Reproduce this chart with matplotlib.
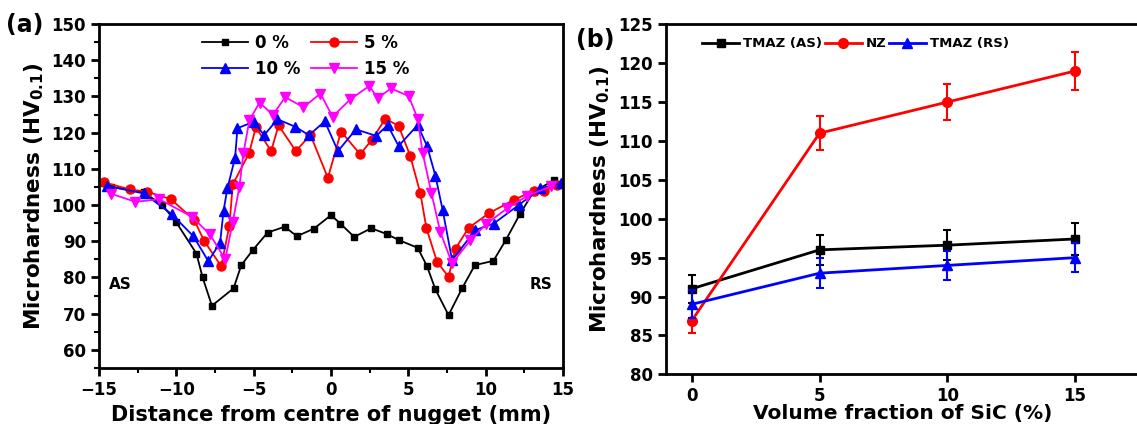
import matplotlib
matplotlib.use("Agg")
import matplotlib.pyplot as plt
from matplotlib.ticker import MultipleLocator

plt.rcParams['font.family'] = ['DejaVu Sans']
plt.rcParams['font.weight'] = 'bold'
plt.rcParams['mathtext.fontset'] = 'dejavusans'
plt.rcParams['axes.linewidth'] = 2.0

# ---------------- Panel (a) data ----------------
x_0 = [-14.7, -14.2, -12.1, -10.9, -10.0, -8.7, -8.3, -7.7, -6.3, -5.8, -5.05, -4.1, -3.0, -2.2,
       -1.1, 0.0, 0.6, 1.5, 2.6, 3.6, 4.4, 5.6, 6.2, 6.75, 7.6, 8.5, 9.3, 10.5, 11.3, 12.2, 13.1, 14.4]
y_0 = [106, 105, 103.5, 100, 95.2, 86.6, 80, 72.2, 77, 83.4, 87.6, 92.4, 94, 91.4,
       93.5, 97.2, 94.9, 91.2, 93.6, 92, 90.3, 88.2, 83.2, 76.7, 69.6, 77.2, 83.4, 84.6, 90.3, 97.4, 103.7, 106.8]

x_5 = [-14.7, -13.0, -11.9, -10.35, -8.85, -8.2, -7.1, -6.57, -6.35, -5.29, -4.86, -3.87, -3.39, -2.27,
       -1.33, -0.2, 0.65, 1.89, 2.65, 3.51, 4.37, 5.12, 5.78, 6.17, 6.86, 7.6, 8.05, 8.9, 10.2, 11.8, 13.1, 13.8, 14.6]
y_5 = [106.3, 104.3, 103.7, 101.6, 95.9, 90.1, 83.1, 94.3, 105.7, 114.4, 121.5, 114.9, 122, 114.9,
       119.4, 107.5, 120.3, 114, 118.1, 123.8, 121.9, 113.6, 103.2, 93.6, 84.3, 80.2, 88, 93.7, 97.7, 101.4, 103.9, 104, 105.5]

x_10 = [-14.5, -12.1, -10.3, -8.9, -7.93, -7.17, -6.95, -6.7, -6.2, -6.05, -5.01, -4.32, -3.46, -2.3,
        -1.43, -0.4, 0.45, 1.61, 2.93, 3.66, 4.37, 5.6, 6.21, 6.75, 7.22, 7.83, 9.34, 10.52, 12.14, 13.54, 14.84]
y_10 = [105.3, 103.2, 97.5, 91.4, 84.5, 89.6, 98.3, 104.6, 113.1, 121.2, 123, 119.3, 123.7, 121.6,
        119.3, 123.1, 114.9, 120.9, 119.1, 122.1, 116.3, 122.1, 116.3, 108.1, 98.6, 84.8, 93.1, 94.9, 100, 104.6, 106]

x_15 = [-14.2, -12.65, -11.1, -9.0, -7.83, -6.84, -6.35, -5.92, -5.66, -5.27, -4.62, -3.76, -2.96, -1.78,
        -0.68, 0.1, 1.25, 2.48, 3.01, 3.88, 5.02, 5.6, 5.93, 6.49, 7.07, 7.83, 9.01, 10.05, 11.39, 12.68, 14.23]
y_15 = [103.1, 100.9, 101.6, 96.8, 91.9, 85, 95.4, 105.1, 114.4, 123.5, 128.3, 124.9, 129.8, 127,
        130.8, 124.4, 129.2, 132.9, 129.5, 132.2, 130.1, 123.9, 114.3, 103.4, 92.5, 83.9, 90.3, 94.8, 99.1, 102.5, 105.2]

labels_a = ['0 %', '5 %', '10 %', '15 %']

# ---------------- Panel (b) data ----------------
sic = [0, 5, 10, 15]
tmaz_as = [91.0, 96.0, 96.6, 97.4]
tmaz_as_err = [1.8, 1.9, 1.9, 2.0]
nz = [86.9, 111.0, 115.0, 119.0]
nz_err = [1.6, 2.2, 2.3, 2.4]
tmaz_rs = [89.0, 93.0, 94.0, 95.0]
tmaz_rs_err = [1.8, 1.9, 1.9, 1.9]
labels_b = ['TMAZ (AS)', 'NZ', 'TMAZ (RS)']

W, H = 1137, 424
fig = plt.figure(figsize=(W / 100, H / 100), dpi=100)

def px_axes(left, top, right, bottom):
    return fig.add_axes([left / W, 1 - bottom / H, (right - left) / W, (bottom - top) / H])

# ---------------- Panel (a) ----------------
ax1 = px_axes(99, 24, 563, 368)
h0, = ax1.plot(x_0, y_0, '-s', color='black', lw=1.3, ms=5, label=labels_a[0])
h5, = ax1.plot(x_5, y_5, '-o', color='red', lw=1.3, ms=6.5, label=labels_a[1])
h10, = ax1.plot(x_10, y_10, '-^', color='blue', lw=1.3, ms=7, label=labels_a[2])
h15, = ax1.plot(x_15, y_15, '-v', color='#ff00ff', lw=1.3, ms=7, label=labels_a[3])
ax1.set_xlim(-15, 15)
ax1.set_ylim(55, 150)
ax1.xaxis.set_major_locator(MultipleLocator(5))
ax1.xaxis.set_minor_locator(MultipleLocator(2.5))
ax1.yaxis.set_minor_locator(MultipleLocator(5))
ax1.set_yticks(range(60, 151, 10))
ax1.tick_params(which='major', direction='out', length=6, width=2, labelsize=12)
ax1.tick_params(which='minor', direction='out', length=3.5, width=1.5)
for lab in ax1.get_xticklabels() + ax1.get_yticklabels():
    lab.set_fontweight('bold')
ax1.set_xlabel('Distance from centre of nugget (mm)', fontsize=15, fontweight='bold', labelpad=4)
ax1.set_ylabel(r'Microhardness (HV$_{\mathbf{0.1}}$)', fontsize=15.5, fontweight='bold', labelpad=4)
ax1.text(-13.6, 78, 'AS', fontsize=11, fontweight='bold', ha='center', va='center')
ax1.text(13.6, 78, 'RS', fontsize=11, fontweight='bold', ha='center', va='center')
ax1.legend([h0, h10, h5, h15], [labels_a[0], labels_a[2], labels_a[1], labels_a[3]],
           ncol=2, loc='upper left', bbox_to_anchor=(0.2, 1.0), frameon=False,
           handlelength=2.8, columnspacing=0.6, handletextpad=0.4,
           labelspacing=0.5, borderaxespad=0.2, prop={'weight': 'bold', 'size': 12})
fig.text(6 / W, 1 - 25 / H, '(a)', fontsize=17, fontweight='bold', ha='left', va='center')

# ---------------- Panel (b) ----------------
ax2 = px_axes(665.7, 24.3, 1140, 374.3)
styles_b = [('s', 'black', 6), ('o', 'red', 7), ('^', 'blue', 7)]
handles_b = []
for vals, errs, (mk, col, ms), lab in zip([tmaz_as, nz, tmaz_rs], [tmaz_as_err, nz_err, tmaz_rs_err],
                                          styles_b, labels_b):
    ax2.errorbar(sic, vals, yerr=errs, fmt='none', ecolor=col, capsize=3, elinewidth=1.5, capthick=1.5)
    h, = ax2.plot(sic, vals, '-' + mk, color=col, lw=2, ms=ms, label=lab)
    handles_b.append(h)
ax2.set_xlim(-1.02, (1140 - 691.7) / 25.56)
ax2.set_ylim(80, 125)
ax2.set_xticks([0, 5, 10, 15])
ax2.yaxis.set_major_locator(MultipleLocator(5))
ax2.tick_params(which='major', direction='out', length=6, width=2, labelsize=12)
for lab in ax2.get_xticklabels() + ax2.get_yticklabels():
    lab.set_fontweight('bold')
ax2.set_xlabel('Volume fraction of SiC (%)', fontsize=14.5, fontweight='bold', labelpad=-1)
ax2.set_ylabel(r'Microhardness (HV$_{\mathbf{0.1}}$)', fontsize=15.5, fontweight='bold', labelpad=4)
ax2.legend(handles=handles_b, ncol=3, loc='upper left', bbox_to_anchor=(0.06, 0.985), frameon=False,
           handlelength=2.8, columnspacing=0.2, handletextpad=0.3, borderaxespad=0.2,
           prop={'weight': 'bold', 'size': 9.5})
fig.text(576 / W, 1 - 40 / H, '(b)', fontsize=17, fontweight='bold', ha='left', va='center')

fig.savefig('out.png', dpi=100)
